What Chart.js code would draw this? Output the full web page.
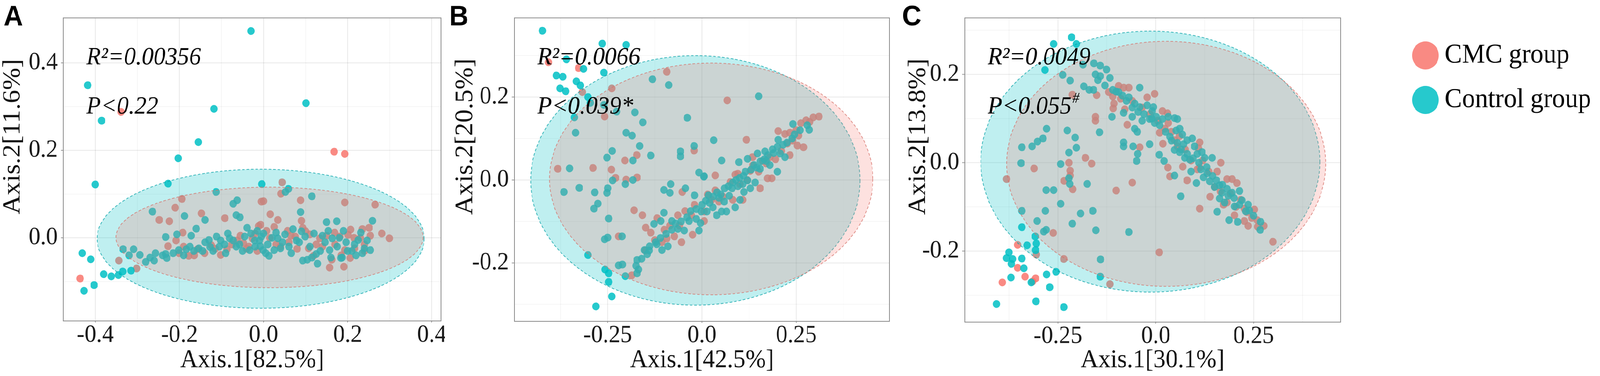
<!DOCTYPE html>
<html>
<head>
<meta charset="utf-8">
<title>PCoA - CMC group vs Control group</title>
<script src="https://cdn.jsdelivr.net/npm/chart.js@4.4.1/dist/chart.umd.min.js"></script>
<style>
  html, body { margin: 0; padding: 0; background: #ffffff; overflow: hidden; }
  #page { position: relative; width: 4317px; height: 963px; transform-origin: 0 0; }
  .panel { position: absolute; top: 0; height: 963px; }
  .panel canvas { display: block; }
</style>
</head>
<body>
<div id="page">
  <div class="panel" style="left:0px;width:1200px"><canvas id="panelA"></canvas></div>
  <div class="panel" style="left:1200px;width:1210px"><canvas id="panelB"></canvas></div>
  <div class="panel" style="left:2410px;width:1907px"><canvas id="panelC"></canvas></div>
</div>
<script>
// ===============================
// DATA
// ===============================

const groups = ["CMC group", "Control group"];

// ---- Panel A ----
const xTitleA = "Axis.1[82.5%]";
const yTitleA = "Axis.2[11.6%]";
const statsA = ["R²=0.00356", "P<0.22", ""];
const xRangeA = [-0.476, 0.422];
const yRangeA = [-0.190, 0.503];
const xTicksA = [-0.4, -0.2, 0, 0.2, 0.4];
const xTickLabelsA = ["-0.4", "-0.2", "0.0", "0.2", "0.4"];
const yTicksA = [0, 0.2, 0.4];
const yTickLabelsA = ["0.0", "0.2", "0.4"];
// ellipses: centre x, centre y, half width, half height
const ellipseCmcA = [0.014, 0.001, 0.365, 0.115];
const ellipseControlA = [-0.007, -0.002, 0.389, 0.159];

const cmcA = [
  [-0.339, 0.288], [-0.436, -0.093], [-0.344, -0.052], [-0.302, -0.070], [-0.194, 0.089],
  [-0.210, 0.069], [-0.248, 0.041], [-0.224, 0.038], [-0.148, 0.056], [-0.092, 0.045],
  [-0.192, 0.012], [-0.208, -0.006], [-0.005, 0.083], [-0.012, 0.027], [-0.201, -0.035],
  [-0.178, -0.041], [-0.157, -0.026], [-0.124, -0.017], [-0.102, -0.039], [-0.087, -0.026],
  [-0.063, -0.006], [-0.048, -0.012], [-0.027, -0.001], [-0.227, -0.019], [-0.035, -0.020],
  [-0.015, -0.030], [0.168, 0.197], [0.193, 0.192], [0.044, 0.127], [0.041, 0.101],
  [0.000, 0.084], [0.088, 0.086], [0.193, 0.081], [0.265, 0.076], [0.016, 0.054],
  [0.034, 0.041], [0.090, 0.039], [0.251, 0.023], [0.254, 0.005], [0.281, 0.010],
  [0.299, -0.001], [-0.007, 0.030], [0.007, 0.016], [0.025, 0.025], [0.057, 0.016],
  [0.075, 0.003], [0.093, 0.023], [0.110, 0.008], [0.107, -0.024], [0.119, -0.041],
  [0.134, -0.001], [0.169, 0.012], [0.181, 0.003], [0.201, 0.007], [0.207, 0.019],
  [0.216, -0.024], [0.193, -0.028], [0.162, -0.050], [0.157, -0.068], [0.206, -0.046],
  [0.191, -0.066], [0.030, -0.015], [0.060, -0.010], [0.140, -0.020], [0.230, 0.000],
  [0.240, -0.015], [-0.190, -0.020], [-0.165, -0.040], [-0.140, -0.035], [-0.115, -0.025],
  [-0.075, -0.015], [-0.055, 0.005], [-0.040, -0.025], [-0.020, 0.010], [0.015, 0.000],
  [0.040, -0.020], [0.065, 0.005], [0.080, -0.025], [0.100, 0.015], [0.125, -0.015],
  [0.150, 0.005], [0.170, -0.015], [0.185, -0.040], [0.215, 0.000], [0.235, 0.020],
  [0.240, -0.030]
];
const controlA = [
  [-0.030, 0.473], [-0.418, 0.349], [-0.118, 0.295], [-0.385, 0.268], [-0.155, 0.219],
  [-0.203, 0.182], [-0.400, 0.122], [-0.227, 0.124], [-0.113, 0.105], [-0.004, 0.123],
  [-0.072, 0.078], [-0.063, 0.086], [-0.264, 0.060], [-0.188, 0.050], [-0.139, 0.041],
  [-0.065, 0.052], [-0.056, 0.047], [-0.233, 0.002], [-0.206, 0.008], [-0.172, 0.005],
  [-0.160, 0.021], [-0.039, 0.023], [-0.431, -0.035], [-0.411, -0.049], [-0.334, -0.026],
  [-0.309, -0.026], [-0.294, -0.039], [-0.280, -0.055], [-0.257, -0.035], [-0.260, -0.052],
  [-0.233, -0.037], [-0.230, -0.046], [-0.380, -0.083], [-0.362, -0.088], [-0.345, -0.085],
  [-0.335, -0.077], [-0.315, -0.075], [-0.403, -0.108], [-0.427, -0.121], [-0.202, -0.028],
  [-0.184, -0.026], [-0.166, -0.030], [-0.154, -0.024], [-0.139, -0.010], [-0.127, -0.021],
  [-0.112, 0.003], [-0.102, -0.006], [-0.093, -0.015], [-0.081, -0.001], [-0.072, -0.006],
  [-0.057, -0.015], [-0.045, 0.003], [-0.033, -0.028], [-0.021, -0.006], [-0.008, -0.019],
  [-0.005, 0.003], [-0.015, 0.016], [-0.120, -0.030], [-0.090, -0.035], [0.101, 0.308],
  [0.059, 0.112], [0.052, 0.105], [0.115, 0.095], [0.088, 0.059], [0.150, 0.036],
  [0.174, 0.038], [0.259, 0.039], [-0.010, -0.006], [0.010, -0.015], [0.013, -0.041],
  [0.034, -0.001], [0.051, 0.008], [0.066, -0.035], [0.078, -0.006], [0.099, 0.003],
  [0.093, -0.052], [0.104, -0.050], [0.128, -0.059], [0.125, -0.037], [0.146, -0.010],
  [0.157, -0.028], [0.154, 0.016], [0.163, -0.001], [0.187, -0.045], [0.196, -0.010],
  [0.190, 0.016], [0.216, -0.015], [0.231, 0.012], [0.240, -0.024], [0.254, -0.028],
  [0.246, -0.006], [0.040, -0.024], [0.025, -0.028], [-0.001, -0.028], [0.020, 0.000],
  [0.070, 0.020], [0.120, 0.010], [0.200, -0.030], [0.220, -0.040], [0.184, -0.046],
  [-0.215, -0.035], [-0.190, -0.040], [-0.175, -0.020], [-0.145, -0.030], [-0.130, -0.005],
  [-0.105, -0.020], [-0.085, 0.010], [-0.065, -0.020], [-0.050, -0.030], [-0.030, 0.010],
  [-0.020, -0.020], [0.000, 0.010], [0.005, -0.035], [0.030, 0.012], [0.045, -0.010],
  [0.060, -0.020], [0.085, -0.010], [0.090, 0.015], [0.110, -0.020], [0.115, -0.045],
  [0.135, -0.030], [0.140, 0.005], [0.160, -0.045], [0.175, -0.020], [0.180, 0.000],
  [0.210, -0.030], [0.225, -0.005], [0.235, -0.035], [-0.240, -0.040], [-0.270, -0.045],
  [-0.320, -0.040]
];

// ---- Panel B ----
const xTitleB = "Axis.1[42.5%]";
const yTitleB = "Axis.2[20.5%]";
const statsB = ["R²=0.0066", "P<0.039*", ""];
const xRangeB = [-0.497, 0.497];
const yRangeB = [-0.341, 0.391];
const xTicksB = [-0.25, 0, 0.25];
const xTickLabelsB = ["-0.25", "0.0", "0.25"];
const yTicksB = [-0.2, 0, 0.2];
const yTickLabelsB = ["-0.2", "0.0", "0.2"];
const ellipseCmcB = [0.0245, 0.0025, 0.4285, 0.2795];
const ellipseControlB = [-0.0175, -0.001, 0.4365, 0.301];

const cmcB = [
  [-0.407, 0.284], [-0.327, 0.270], [-0.093, 0.261], [-0.239, 0.221], [-0.317, 0.212],
  [-0.258, 0.153], [-0.382, 0.027], [-0.289, 0.029], [-0.204, 0.047], [-0.173, 0.060],
  [-0.240, 0.025], [-0.229, 0.005], [-0.172, 0.006], [-0.201, 0.001], [-0.021, 0.071],
  [-0.052, -0.029], [-0.180, -0.073], [-0.158, -0.085], [-0.149, -0.115], [-0.136, -0.127],
  [-0.119, -0.092], [-0.093, -0.141], [-0.064, -0.085], [-0.054, -0.150], [-0.028, -0.085],
  [-0.025, -0.132], [-0.106, -0.150], [-0.073, -0.136], [-0.221, -0.136], [-0.186, -0.230],
  [0.067, 0.192], [0.118, 0.097], [0.035, 0.011], [0.310, 0.153], [0.295, 0.151],
  [0.276, 0.144], [0.262, 0.137], [0.202, 0.118], [0.220, 0.111], [0.233, 0.114],
  [0.256, 0.107], [0.269, 0.079], [0.253, 0.083], [0.226, 0.088], [0.233, 0.060],
  [0.154, -0.020], [0.174, 0.004], [0.185, 0.004], [0.101, -0.010], [0.128, 0.022],
  [0.088, 0.013], [0.026, -0.048], [0.045, -0.052], [0.082, -0.048], [0.108, -0.048],
  [0.006, -0.076], [0.006, -0.099], [0.134, 0.055], [0.161, 0.046], [0.180, 0.055],
  [-0.150, -0.170], [-0.125, -0.145], [-0.100, -0.120], [-0.085, -0.110], [-0.060, -0.110],
  [-0.045, -0.075], [-0.020, -0.060], [0.015, -0.035], [0.035, -0.025], [0.055, -0.040],
  [0.075, -0.005], [0.095, 0.015], [0.120, 0.000], [0.135, 0.035], [0.150, 0.020],
  [0.170, 0.040], [0.195, 0.050], [0.210, 0.070], [0.240, 0.095], [0.250, 0.120],
  [0.285, 0.140]
];
const controlB = [
  [-0.423, 0.360], [-0.264, 0.329], [-0.201, 0.326], [-0.359, 0.291], [-0.314, 0.268],
  [-0.260, 0.259], [-0.386, 0.252], [-0.369, 0.249], [-0.333, 0.238], [-0.322, 0.228],
  [-0.376, 0.221], [-0.361, 0.214], [-0.302, 0.200], [-0.296, 0.186], [-0.260, 0.181],
  [-0.338, 0.151], [-0.226, 0.165], [-0.178, 0.163], [-0.157, 0.139], [-0.335, 0.114],
  [-0.201, 0.114], [-0.185, 0.107], [-0.131, 0.243], [-0.088, 0.229], [-0.039, 0.150],
  [-0.165, 0.082], [-0.136, 0.059], [-0.238, 0.070], [-0.252, 0.054], [-0.183, 0.047],
  [-0.351, 0.028], [-0.021, 0.082], [-0.057, 0.069], [-0.057, 0.057], [-0.008, 0.018],
  [0.005, 0.008], [-0.237, -0.001], [-0.250, -0.020], [-0.252, -0.031], [-0.203, -0.010],
  [-0.183, 0.000], [-0.366, -0.029], [-0.325, -0.019], [-0.284, -0.030], [-0.083, -0.010],
  [-0.101, -0.024], [-0.085, -0.031], [-0.044, -0.020], [-0.020, -0.037], [-0.276, -0.057],
  [-0.286, -0.069], [-0.101, -0.079], [-0.247, -0.093], [-0.127, -0.106], [-0.109, -0.099],
  [-0.080, -0.099], [-0.034, -0.099], [-0.015, -0.094], [-0.002, -0.076], [-0.008, -0.122],
  [-0.064, -0.118], [-0.047, -0.122], [-0.250, -0.139], [-0.258, -0.143], [-0.212, -0.136],
  [-0.139, -0.160], [-0.123, -0.150], [-0.106, -0.169], [-0.090, -0.160], [-0.152, -0.169],
  [-0.145, -0.179], [-0.172, -0.193], [-0.175, -0.207], [-0.168, -0.216], [-0.172, -0.225],
  [-0.302, -0.181], [-0.221, -0.206], [-0.211, -0.204], [-0.257, -0.216], [-0.247, -0.225],
  [-0.203, -0.232], [-0.247, -0.246], [-0.239, -0.281], [-0.281, -0.305], [0.150, 0.202],
  [0.031, 0.096], [0.052, 0.047], [0.098, 0.043], [0.121, 0.051], [0.006, 0.009],
  [0.017, -0.037], [0.241, 0.135], [0.279, 0.132], [0.284, 0.121], [0.202, 0.097],
  [0.239, 0.100], [0.147, 0.064], [0.167, 0.069], [0.187, 0.074], [0.207, 0.064],
  [0.220, 0.055], [0.200, 0.020], [0.138, 0.036], [0.154, 0.027], [0.170, 0.046],
  [0.180, 0.036], [0.082, -0.006], [0.095, -0.015], [0.108, -0.010], [0.121, -0.001],
  [0.128, -0.020], [0.141, -0.006], [0.045, -0.043], [0.059, -0.052], [0.072, -0.038],
  [0.088, -0.066], [0.101, -0.048], [0.111, -0.029], [0.013, -0.076], [0.029, -0.066],
  [0.039, -0.085], [0.052, -0.076], [0.065, -0.076], [-0.004, -0.104], [-0.160, -0.190],
  [-0.140, -0.170], [-0.120, -0.155], [-0.110, -0.140], [-0.095, -0.130], [-0.080, -0.120],
  [-0.070, -0.105], [-0.055, -0.100], [-0.040, -0.090], [-0.030, -0.075], [-0.015, -0.070],
  [0.000, -0.060], [0.010, -0.050], [0.020, -0.055], [0.030, -0.040], [0.040, -0.030],
  [0.050, -0.035], [0.060, -0.020], [0.070, -0.015], [0.080, -0.020], [0.090, 0.000],
  [0.100, 0.005], [0.110, 0.010], [0.115, 0.020], [0.130, 0.025], [0.145, 0.030],
  [0.155, 0.045], [0.165, 0.050], [0.175, 0.060], [0.190, 0.065], [0.200, 0.080],
  [0.215, 0.085], [0.225, 0.090], [0.245, 0.110], [0.260, 0.120]
];

// ---- Panel C ----
const xTitleC = "Axis.1[30.1%]";
const yTitleC = "Axis.2[13.8%]";
const statsC = ["R²=0.0049", "P<0.055", "#"];
const xRangeC = [-0.488, 0.472];
const yRangeC = [-0.361, 0.328];
const xTicksC = [-0.25, 0, 0.25];
const xTickLabelsC = ["-0.25", "0.0", "0.25"];
const yTicksC = [-0.2, 0, 0.2];
const yTickLabelsC = ["-0.2", "0.0", "0.2"];
const ellipseCmcC = [0.0265, -0.0025, 0.4075, 0.2775];
const ellipseControlC = [-0.014, 0.0025, 0.433, 0.2955];

const cmcC = [
  [-0.213, 0.154], [-0.151, 0.153], [-0.110, 0.150], [-0.107, 0.134], [-0.109, 0.123],
  [-0.095, 0.174], [-0.082, 0.170], [-0.069, 0.170], [-0.154, 0.104], [-0.154, 0.095],
  [-0.073, 0.086], [-0.079, 0.121], [-0.003, 0.156], [-0.022, 0.148], [-0.041, 0.035],
  [-0.180, 0.011], [-0.164, -0.002], [-0.222, 0.000], [-0.219, -0.018], [-0.219, -0.029],
  [-0.234, -0.041], [-0.212, -0.060], [-0.311, -0.013], [-0.381, -0.037], [-0.060, -0.045],
  [-0.101, -0.063], [-0.262, -0.159], [-0.353, -0.186], [-0.305, -0.208], [-0.235, -0.218],
  [-0.353, -0.238], [-0.334, -0.258], [-0.315, -0.269], [-0.307, -0.262], [-0.392, -0.271],
  [-0.117, -0.275], [0.017, 0.117], [0.030, 0.112], [0.010, 0.068], [0.023, 0.077],
  [0.032, 0.090], [0.018, 0.043], [0.048, 0.051], [0.055, 0.037], [0.031, -0.011],
  [0.036, -0.031], [0.069, -0.009], [0.080, -0.040], [0.112, 0.046], [0.109, 0.033],
  [0.106, -0.015], [0.112, -0.011], [0.139, -0.077], [0.112, -0.104], [0.166, 0.000],
  [0.157, -0.020], [0.182, -0.037], [0.195, -0.037], [0.207, -0.046], [0.173, -0.095],
  [0.182, -0.090], [0.217, -0.084], [0.226, -0.104], [0.233, -0.112], [0.252, -0.106],
  [0.201, -0.119], [0.226, -0.132], [0.236, -0.143], [0.259, -0.130], [0.276, -0.143],
  [0.299, -0.179], [0.009, -0.203], [-0.120, 0.160], [-0.090, 0.145], [-0.060, 0.140],
  [-0.035, 0.125], [-0.015, 0.110], [0.005, 0.095], [0.040, 0.070], [0.060, 0.060],
  [0.075, 0.030], [0.090, 0.005], [0.120, 0.005], [0.135, -0.020], [0.150, -0.055],
  [0.165, -0.065], [0.190, -0.070], [0.205, -0.100], [0.245, -0.125], [0.260, -0.145]
];
const controlC = [
  [-0.215, 0.284], [-0.261, 0.269], [-0.203, 0.269], [-0.186, 0.222], [-0.283, 0.210],
  [-0.238, 0.199], [-0.219, 0.186], [-0.158, 0.225], [-0.142, 0.220], [-0.126, 0.211],
  [-0.154, 0.200], [-0.148, 0.187], [-0.142, 0.196], [-0.184, 0.173], [-0.170, 0.165],
  [-0.159, 0.165], [-0.117, 0.192], [-0.041, 0.170], [-0.101, 0.161], [-0.085, 0.152],
  [-0.069, 0.148], [-0.054, 0.134], [-0.041, 0.126], [-0.022, 0.130], [-0.009, 0.117],
  [-0.082, 0.113], [-0.060, 0.104], [-0.035, 0.095], [-0.016, 0.099], [-0.003, 0.090],
  [-0.112, 0.104], [-0.054, 0.077], [-0.047, 0.070], [-0.144, 0.069], [-0.279, 0.077],
  [-0.316, 0.037], [-0.302, 0.048], [-0.288, 0.055], [-0.342, 0.035], [-0.226, 0.073],
  [-0.206, 0.057], [-0.203, 0.034], [-0.222, 0.023], [-0.082, 0.046], [-0.082, 0.037],
  [-0.058, 0.037], [-0.016, 0.042], [-0.046, 0.020], [-0.049, 0.004], [-0.344, -0.001],
  [-0.243, -0.003], [-0.222, -0.035], [-0.220, -0.048], [-0.175, -0.048], [-0.280, -0.062],
  [-0.261, -0.062], [-0.243, -0.093], [-0.342, -0.109], [-0.282, -0.109], [-0.192, -0.115],
  [-0.161, -0.109], [-0.303, -0.132], [-0.213, -0.138], [-0.342, -0.146], [-0.153, -0.153],
  [-0.069, -0.157], [-0.286, -0.156], [-0.280, -0.152], [-0.308, -0.167], [-0.305, -0.183],
  [-0.307, -0.198], [-0.329, -0.187], [-0.375, -0.203], [-0.381, -0.216], [-0.366, -0.218],
  [-0.369, -0.229], [-0.342, -0.217], [-0.337, -0.239], [-0.370, -0.260], [-0.279, -0.253],
  [-0.255, -0.247], [-0.141, -0.219], [-0.142, -0.258], [-0.271, -0.282], [-0.306, -0.314],
  [-0.407, -0.320], [-0.235, -0.327], [-0.318, -0.271], [-0.006, 0.126], [0.001, 0.104],
  [0.017, 0.099], [0.032, 0.104], [0.048, 0.101], [0.055, 0.099], [0.036, 0.059],
  [0.052, 0.073], [0.061, 0.077], [0.068, 0.064], [0.048, 0.029], [0.061, 0.024],
  [0.071, 0.042], [0.080, 0.051], [0.093, 0.055], [0.099, 0.037], [0.074, 0.011],
  [0.087, 0.007], [0.106, 0.020], [0.118, 0.024], [0.125, 0.011], [0.144, 0.011],
  [0.009, 0.018], [0.021, 0.004], [0.048, -0.029], [0.090, -0.020], [0.104, -0.046],
  [0.122, -0.033], [0.131, -0.024], [0.138, -0.042], [0.150, -0.055], [0.163, -0.051],
  [0.169, -0.068], [0.182, -0.059], [0.195, -0.068], [0.214, -0.064], [0.163, -0.081],
  [0.176, -0.090], [0.201, -0.099], [0.214, -0.095], [0.236, -0.095], [0.239, -0.108],
  [0.064, -0.076], [0.157, -0.111], [0.187, -0.130], [0.209, -0.134], [0.268, -0.134],
  [0.267, -0.152], [-0.130, 0.175], [-0.110, 0.165], [-0.095, 0.160], [-0.075, 0.140],
  [-0.060, 0.125], [-0.045, 0.115], [-0.030, 0.110], [-0.010, 0.100], [0.010, 0.085],
  [0.025, 0.070], [0.040, 0.050], [0.055, 0.045], [0.065, 0.030], [0.080, 0.020],
  [0.095, 0.010], [0.110, 0.000], [0.115, -0.015], [0.130, -0.010], [0.145, -0.030],
  [0.155, -0.040], [0.170, -0.050], [0.185, -0.075], [0.200, -0.080], [0.220, -0.085],
  [0.230, -0.110], [0.250, -0.120]
];


// ===============================
// STYLE
// ===============================

const SERIF = "'Liberation Serif', 'Times New Roman', serif";
const pointColors = ["rgba(248, 118, 109, 0.85)", "rgba(0, 191, 196, 0.85)"];
const fillColors = ["rgba(248, 118, 109, 0.22)", "rgba(0, 191, 196, 0.25)"];
const edgeColors = ["rgba(214, 112, 104, 0.75)", "rgba(0, 160, 166, 0.75)"];

// the layout is drawn on a 4317 x 963 page; fit it to whatever viewport we get
document.getElementById("page").style.transform =
  "scale(" + (window.innerWidth / 4317) + "," + (window.innerHeight / 963) + ")";

const onTick = (v, list) => list.findIndex(t => Math.abs(v - t) < 1e-6);

// ellipses (over the points, as in the ggplot layer order), frame, stats text,
// panel letter, y title and legend
function decor(p) {
  return {
    id: "decor" + p.letter,
    afterDatasetsDraw(chart) {
      const { ctx, chartArea: a, scales: { x, y } } = chart;
      ctx.save();
      ctx.beginPath();
      ctx.rect(a.left, a.top, a.right - a.left, a.bottom - a.top);
      ctx.clip();
      [p.ellControl, p.ellCmc].forEach((e, k) => {
        const g = k === 0 ? 1 : 0;
        const cx = x.getPixelForValue(e[0]);
        const cy = y.getPixelForValue(e[1]);
        const rx = Math.abs(x.getPixelForValue(e[0] + e[2]) - cx);
        const ry = Math.abs(y.getPixelForValue(e[1] + e[3]) - cy);
        ctx.beginPath();
        ctx.ellipse(cx, cy, rx, ry, 0, 0, Math.PI * 2);
        ctx.fillStyle = fillColors[g];
        ctx.fill();
        ctx.setLineDash([7, 5]);
        ctx.lineWidth = 2;
        ctx.strokeStyle = edgeColors[g];
        ctx.stroke();
      });
      ctx.restore();
    },
    afterDraw(chart) {
      const { ctx, chartArea: a } = chart;
      ctx.save();
      ctx.strokeStyle = "#8a8a8a";
      ctx.lineWidth = 2;
      ctx.strokeRect(a.left, a.top, a.right - a.left, a.bottom - a.top);

      ctx.fillStyle = "#000";
      ctx.textAlign = "left";
      ctx.textBaseline = "alphabetic";
      ctx.font = "italic 64px " + SERIF;
      ctx.fillText(p.stats[0], a.left + 62, a.top + 119);
      ctx.fillText(p.stats[1], a.left + 62, a.top + 245);
      if (p.stats[2]) {
        const w = ctx.measureText(p.stats[1]).width;
        ctx.font = "italic 38px " + SERIF;
        ctx.fillText(p.stats[2], a.left + 62 + w + 2, a.top + 245 - 28);
      }

      ctx.font = "bold 72px 'Liberation Sans', Arial, sans-serif";
      ctx.fillText(p.letter, p.letterX, 65);

      ctx.translate(p.yTitleX, 350);
      ctx.rotate(-Math.PI / 2);
      ctx.textAlign = "center";
      ctx.font = "68px " + SERIF;
      ctx.fillStyle = "#111";
      ctx.fillText(p.yTitle, 0, 0);
      ctx.restore();

      if (p.legend) {
        ctx.save();
        ctx.font = "70px " + SERIF;
        ctx.textBaseline = "middle";
        ctx.textAlign = "left";
        groups.forEach((name, i) => {
          const cy = 142 + i * 114;
          ctx.beginPath();
          ctx.arc(1436, cy, 36, 0, Math.PI * 2);
          ctx.fillStyle = pointColors[i];
          ctx.fill();
          ctx.fillStyle = "#000";
          ctx.fillText(name, 1488, cy);
        });
        ctx.restore();
      }
    }
  };
}

function makePanel(id, p) {
  const toXY = arr => arr.map(d => ({ x: d[0], y: d[1] }));
  return new Chart(document.getElementById(id), {
    type: "scatter",
    data: {
      datasets: [
        { label: groups[0], data: toXY(p.cmc), backgroundColor: pointColors[0], order: 1 },
        { label: groups[1], data: toXY(p.control), backgroundColor: pointColors[1], order: 0 }
      ]
    },
    options: {
      responsive: true,
      maintainAspectRatio: false,
      devicePixelRatio: 2,
      animation: false,
      events: [],
      layout: { padding: { top: p.top, right: p.right, left: 0, bottom: 0 } },
      elements: { point: { radius: 10, borderWidth: 0, hoverRadius: 10 } },
      plugins: { legend: { display: false }, tooltip: { enabled: false } },
      scales: {
        x: {
          type: "linear",
          min: p.xRange[0],
          max: p.xRange[1],
          afterFit: s => { s.height = p.xHeight; },
          border: { display: false },
          grid: {
            color: c => onTick(c.tick.value, p.xTicks) >= 0 ? "rgba(0,0,0,0.09)" : "rgba(0,0,0,0.05)",
            lineWidth: c => onTick(c.tick.value, p.xTicks) >= 0 ? 2 : 1.5,
            tickColor: c => onTick(c.tick.value, p.xTicks) >= 0 ? "#999" : "rgba(0,0,0,0)",
            tickLength: 4
          },
          ticks: {
            stepSize: p.xStep,
            includeBounds: false,
            autoSkip: false,
            maxRotation: 0,
            padding: -5,
            color: "#1a1a1a",
            font: { family: SERIF, size: 63 },
            callback: v => {
              const i = onTick(v, p.xTicks);
              return i >= 0 ? p.xTickLabels[i] : "";
            }
          },
          title: {
            display: true,
            text: p.xTitle,
            color: "#111",
            font: { family: SERIF, size: 66 },
            padding: { top: 0, bottom: 0 }
          }
        },
        y: {
          type: "linear",
          min: p.yRange[0],
          max: p.yRange[1],
          afterFit: s => { s.width = p.yWidth; },
          border: { display: false },
          grid: {
            color: c => onTick(c.tick.value, p.yTicks) >= 0 ? "rgba(0,0,0,0.09)" : "rgba(0,0,0,0.05)",
            lineWidth: c => onTick(c.tick.value, p.yTicks) >= 0 ? 2 : 1.5,
            tickColor: c => onTick(c.tick.value, p.yTicks) >= 0 ? "#999" : "rgba(0,0,0,0)",
            tickLength: 7
          },
          ticks: {
            stepSize: 0.1,
            includeBounds: false,
            autoSkip: false,
            padding: 8,
            color: "#1a1a1a",
            font: { family: SERIF, size: 63 },
            callback: v => {
              const i = onTick(v, p.yTicks);
              return i >= 0 ? p.yTickLabels[i] : "";
            }
          }
        }
      }
    },
    plugins: [decor(p)]
  });
}


// ===============================
// PANELS
// ===============================

makePanel("panelA", {
  letter: "A", letterX: 10, yTitleX: 53, legend: false,
  top: 20, right: 9, yWidth: 171, xHeight: 141,
  cmc: cmcA, control: controlA, ellCmc: ellipseCmcA, ellControl: ellipseControlA,
  xRange: xRangeA, yRange: yRangeA, xStep: 0.1,
  xTicks: xTicksA, xTickLabels: xTickLabelsA, yTicks: yTicksA, yTickLabels: yTickLabelsA,
  xTitle: xTitleA, yTitle: yTitleA, stats: statsA
});

makePanel("panelB", {
  letter: "B", letterX: 12, yTitleX: 74, legend: false,
  top: 22, right: 6, yWidth: 188, xHeight: 140,
  cmc: cmcB, control: controlB, ellCmc: ellipseCmcB, ellControl: ellipseControlB,
  xRange: xRangeB, yRange: yRangeB, xStep: 0.125,
  xTicks: xTicksB, xTickLabels: xTickLabelsB, yTicks: yTicksB, yTickLabels: yTickLabelsB,
  xTitle: xTitleB, yTitle: yTitleB, stats: statsB
});

makePanel("panelC", {
  letter: "C", letterX: 24, yTitleX: 86, legend: true,
  top: 23, right: 700, yWidth: 193, xHeight: 138,
  cmc: cmcC, control: controlC, ellCmc: ellipseCmcC, ellControl: ellipseControlC,
  xRange: xRangeC, yRange: yRangeC, xStep: 0.125,
  xTicks: xTicksC, xTickLabels: xTickLabelsC, yTicks: yTicksC, yTickLabels: yTickLabelsC,
  xTitle: xTitleC, yTitle: yTitleC, stats: statsC
});
</script>
</body>
</html>
